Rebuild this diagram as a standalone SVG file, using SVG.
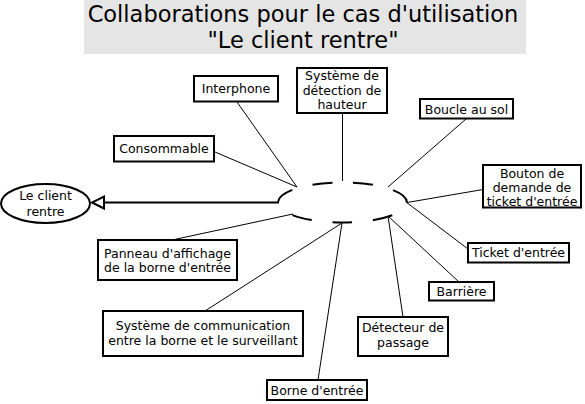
<svg xmlns="http://www.w3.org/2000/svg" width="585" height="404" viewBox="0 0 585 404">
<defs>
<style>
.box rect{fill:#fff;stroke:#000;stroke-width:2}
.box text,.uc text{font-family:"DejaVu Sans",sans-serif;font-size:12.5px;text-anchor:middle;fill:#000}
.title{font-family:"DejaVu Sans",sans-serif;font-size:22.5px;text-anchor:middle;fill:#000}
.conn line{stroke:#000;stroke-width:1}
</style>
<marker id="tri" markerUnits="userSpaceOnUse" markerWidth="16" markerHeight="16" refX="13" refY="7" orient="auto">
<path d="M1,1 L13,7 L1,13 Z" fill="#fff" stroke="#000" stroke-width="2"/>
</marker>
</defs>
<rect width="585" height="404" fill="#fff"/>
<g id="title">
<rect x="84" y="0" width="442" height="54" fill="#e5e5e5"/>
<text class="title" x="303" y="22">Collaborations pour le cas d'utilisation</text>
<text class="title" x="303" y="48">"Le client rentre"</text>
</g>
<g id="connectors" class="conn">
<line x1="237" y1="102" x2="297" y2="187"/>
<line x1="215" y1="152" x2="297" y2="187"/>
<line x1="342.5" y1="113" x2="342.5" y2="181"/>
<line x1="466" y1="119" x2="388" y2="187"/>
<line x1="483" y1="189.5" x2="407" y2="202.5"/>
<line x1="406" y1="202" x2="468" y2="249"/>
<line x1="388" y1="216" x2="459" y2="282"/>
<line x1="388" y1="216" x2="403" y2="317"/>
<line x1="342" y1="223" x2="318" y2="380"/>
<line x1="342" y1="223" x2="205" y2="311"/>
<line x1="172" y1="240" x2="293" y2="214"/>
<line x1="279" y1="202.5" x2="92" y2="202.5" style="stroke-width:2" marker-end="url(#tri)"/>
</g>
<g id="collab">
<path d="M407,202.5 A64.5,20 0 1 1 278,202.5 A64.5,20 0 1 1 407,202.5" fill="none" stroke="#000" stroke-width="2" pathLength="7" stroke-dasharray="0.49 0.51" stroke-dashoffset="0.49"/>
</g>
<g id="uc-client" class="uc">
<ellipse cx="45.5" cy="203.5" rx="44.5" ry="19.5" fill="#fff" stroke="#000" stroke-width="2"/>
<text x="45.5" y="200">Le client</text>
<text x="45.5" y="215.5">rentre</text>
</g>
<g id="interphone" class="box"><rect x="194" y="76" width="84" height="25.5"/><text x="236" y="93">Interphone</text></g>
<g id="consommable" class="box"><rect x="114" y="136" width="100" height="25.5"/><text x="164" y="153">Consommable</text></g>
<g id="detection-hauteur" class="box"><rect x="297" y="68" width="90" height="45"/><text x="342" y="80">Système de</text><text x="342" y="94.7">détection de</text><text x="342" y="109.3">hauteur</text></g>
<g id="boucle" class="box"><rect x="420" y="99" width="93" height="19.5"/><text x="466.5" y="113.5">Boucle au sol</text></g>
<g id="bouton" class="box"><rect x="483" y="165" width="98" height="42.5"/><text x="532" y="178">Bouton de</text><text x="532" y="192.3">demande de</text><text x="532" y="206">ticket d'entrée</text></g>
<g id="ticket" class="box"><rect x="468" y="243" width="101" height="19.5"/><text x="518.5" y="257">Ticket d'entrée</text></g>
<g id="barriere" class="box"><rect x="429" y="282" width="65" height="18.5"/><text x="461.5" y="295.5">Barrière</text></g>
<g id="detecteur" class="box"><rect x="358" y="317" width="90" height="39"/><text x="403" y="332.3">Détecteur de</text><text x="403" y="347.3">passage</text></g>
<g id="borne" class="box"><rect x="267" y="380" width="100" height="20"/><text x="317" y="395">Borne d'entrée</text></g>
<g id="communication" class="box"><rect x="103" y="311" width="200" height="45"/><text x="203" y="330">Système de communication</text><text x="203" y="345">entre la borne et le surveillant</text></g>
<g id="panneau" class="box"><rect x="98" y="240" width="139" height="40"/><text x="167.5" y="258.3">Panneau d'affichage</text><text x="167.5" y="272.3">de la borne d'entrée</text></g>
</svg>
